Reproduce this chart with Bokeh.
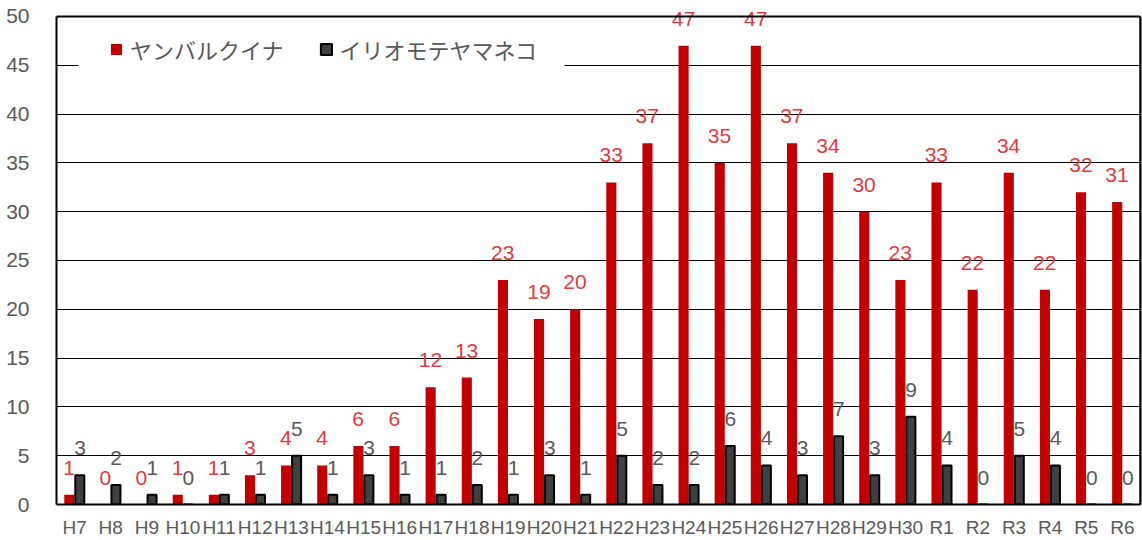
from bokeh.plotting import figure
from bokeh.models import (ColumnDataSource, FactorRange, FixedTicker, Legend, LegendItem,
                          BoxAnnotation, LinearAxis, Span)
from bokeh.transform import dodge
from bokeh.core.properties import value
from bokeh.embed import file_html
from bokeh.resources import INLINE

# Fiscal years (Heisei / Reiwa)
years = ["H7", "H8", "H9", "H10", "H11", "H12", "H13", "H14", "H15", "H16",
         "H17", "H18", "H19", "H20", "H21", "H22", "H23", "H24", "H25", "H26",
         "H27", "H28", "H29", "H30", "R1", "R2", "R3", "R4", "R5", "R6"]

# Road-kill counts per year
yanbaru = [1, 0, 0, 1, 1, 3, 4, 4, 6, 6,
           12, 13, 23, 19, 20, 33, 37, 47, 35, 47,
           37, 34, 30, 23, 33, 22, 34, 22, 32, 31]
iriomote = [3, 2, 1, 0, 1, 1, 5, 1, 3, 1,
            1, 2, 1, 3, 1, 5, 2, 2, 6, 4,
            3, 7, 3, 9, 4, 0, 5, 4, 0, 0]

y_ticks = [0, 5, 10, 15, 20, 25, 30, 35, 40, 45, 50]

RED = "#C00000"
RED_TEXT = "#E03C3C"
DARK = "#404040"
GRAY_TEXT = "#595959"
NUM_FONT = "Liberation Sans"
JP_FONT = "Noto Sans CJK JP"

source = ColumnDataSource(data=dict(
    year=years,
    yanbaru=yanbaru,
    iriomote=iriomote,
    yanbaru_txt=[str(v) for v in yanbaru],
    iriomote_txt=[str(v) for v in iriomote],
))

# The frame reaches the top of the canvas so value labels near 50 are not cut;
# the chart box itself is drawn at 0..50.
y_max = y_ticks[-1]
frame_h = 540 - 35
headroom = 16
p = figure(
    width=1142, height=540,
    x_range=FactorRange(*years, range_padding=0),
    y_range=(0, y_max * frame_h / (frame_h - headroom)),
    output_backend="svg", toolbar_location=None,
    min_border_left=56, min_border_right=2,
    min_border_top=0, min_border_bottom=35,
)

p.outline_line_color = None
p.background_fill_color = "white"
p.border_fill_color = "white"

# Gridlines
p.xgrid.grid_line_color = None
p.ygrid.grid_line_color = "black"
p.ygrid.grid_line_width = 1

# White backdrop behind the legend, hiding the gridline there
p.add_layout(BoxAnnotation(left=0.61, right=14.06, bottom=42.5, top=48.5,
                           fill_color="white", fill_alpha=1, line_color=None))

# Top edge of the chart box
p.add_layout(Span(location=y_max, dimension="width", line_color="black", line_width=2))

# Right edge of the chart box, after the last category
p.segment(x0=len(years), y0=0, x1=len(years), y1=y_max, line_color="black", line_width=2)

# Bars
r_red = p.vbar(x=dodge("year", -0.145, range=p.x_range), top="yanbaru", width=0.28,
               source=source, fill_color=RED, line_color=None)
r_dark = p.vbar(x=dodge("year", 0.145, range=p.x_range), top="iriomote", width=0.25,
                source=source, fill_color=DARK, line_color="black", line_width=2)

# Value labels above bars
p.text(x=dodge("year", -0.15, range=p.x_range), y="yanbaru", text="yanbaru_txt", source=source,
       text_align="center", text_baseline="middle", y_offset=-27,
       text_font=value(NUM_FONT), text_font_size="21px", text_color=RED_TEXT)
p.text(x=dodge("year", 0.15, range=p.x_range), y="iriomote", text="iriomote_txt", source=source,
       text_align="center", text_baseline="middle", y_offset=-27,
       text_font=value(NUM_FONT), text_font_size="21px", text_color=GRAY_TEXT)

# Axes
p.yaxis.ticker = FixedTicker(ticks=y_ticks)
p.yaxis.bounds = (0, y_max)
p.yaxis.major_tick_line_color = None
p.yaxis.minor_tick_line_color = None
p.yaxis.axis_line_color = "black"
p.yaxis.axis_line_width = 2
p.yaxis.major_label_standoff = 21
p.yaxis.major_label_text_font = NUM_FONT
p.yaxis.major_label_text_font_size = "21px"
p.yaxis.major_label_text_color = GRAY_TEXT

# Unlabeled axis line along the right side
right_edge = LinearAxis(ticker=FixedTicker(ticks=[]), bounds=(0, y_max),
                        axis_line_color="black", axis_line_width=2,
                        major_tick_line_color=None, minor_tick_line_color=None,
                        major_label_text_font_size="0px", major_label_standoff=0,
                        major_tick_out=0, major_tick_in=0, minor_tick_out=0)
p.add_layout(right_edge, "right")

p.xaxis.major_tick_line_color = None
p.xaxis.minor_tick_line_color = None
p.xaxis.axis_line_color = "black"
p.xaxis.axis_line_width = 2
p.xaxis.major_label_standoff = 6
p.xaxis.major_label_text_line_height = 1.0
p.xaxis.major_label_text_font = NUM_FONT
p.xaxis.major_label_text_font_size = "19px"
p.xaxis.major_label_text_color = GRAY_TEXT

legend = Legend(
    items=[LegendItem(label="ヤンバルクイナ", renderers=[r_red]),
           LegendItem(label="イリオモテヤマネコ", renderers=[r_dark])],
    location=(53, 439), orientation="horizontal",
    glyph_width=14, glyph_height=14, label_standoff=7, spacing=35,
    padding=0, margin=0,
    label_text_font=JP_FONT, label_text_font_size="22px", label_text_color=GRAY_TEXT,
    background_fill_alpha=0, border_line_color=None,
)
p.add_layout(legend)

open("out.html", "w").write(file_html(p, INLINE))
